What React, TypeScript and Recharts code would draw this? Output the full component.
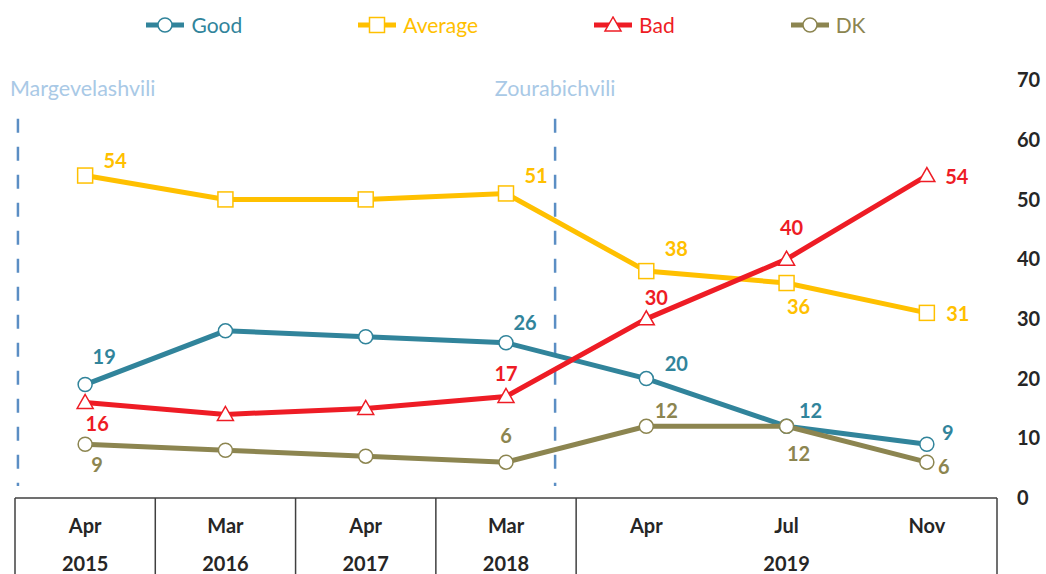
import React from "react";
import { LineChart, Line, XAxis, YAxis, ReferenceLine, LabelList } from "recharts";

const periods = ["Apr 2015", "Mar 2016", "Apr 2017", "Mar 2018", "Apr 2019", "Jul 2019", "Nov 2019"];
const months = ["Apr", "Mar", "Apr", "Mar", "Apr", "Jul", "Nov"];
const years = ["2015", "2016", "2017", "2018", "", "2019", ""];

const good = [19, 28, 27, 26, 20, 12, 9];
const average = [54, 50, 50, 51, 38, 36, 31];
const bad = [16, 14, 15, 17, 30, 40, 54];
const dk = [9, 8, 7, 6, 12, 12, 6];

const yTicks = [0, 10, 20, 30, 40, 50, 60, 70];

// presidents' terms start, placed on a hidden numeric axis spanning the plot (0..6)
const presidents = [
  { name: "Margevelashvili", at: 0.018 },
  { name: "Zourabichvili", at: 3.3 },
];

const FONT = "Lato, 'Open Sans', sans-serif";
const W = 1046;
const H = 574;

type Shape = "circle" | "square" | "triangle";

// label offsets from the point, null = no label
const series: {
  key: string;
  values: number[];
  color: string;
  shape: Shape;
  labels: ([number, number] | null)[];
}[] = [
  {
    key: "Good",
    values: good,
    color: "#31849B",
    shape: "circle",
    labels: [[19, -29], null, null, [19, -21], [30, -16], [24, -16], [21, -12]],
  },
  {
    key: "Average",
    values: average,
    color: "#FFC000",
    shape: "square",
    labels: [[30, -16], null, null, [30, -18], [30, -23], [12, 23], [31, 0]],
  },
  {
    key: "Bad",
    values: bad,
    color: "#EE1C25",
    shape: "triangle",
    labels: [[12, 21], null, null, [0, -23], [10, -22], [5, -32], [30, 0]],
  },
  {
    key: "DK",
    values: dk,
    color: "#8C8550",
    shape: "circle",
    labels: [[12, 20], null, null, [0, -27], [20, -16], [12, 27], [17, 4]],
  },
];

const data = periods.map((p, i) => {
  const row: Record<string, any> = { period: p };
  series.forEach((s) => (row[s.key] = s.values[i]));
  return row;
});

function Marker({ cx, cy, color, shape }: { cx: number; cy: number; color: string; shape: Shape }) {
  if (shape === "square") {
    return <rect x={cx - 7.5} y={cy - 7.5} width={15} height={15} fill="#fff" stroke={color} strokeWidth={1.5} />;
  }
  if (shape === "triangle") {
    return (
      <polygon
        points={`${cx},${cy - 8} ${cx - 8},${cy + 6} ${cx + 8},${cy + 6}`}
        fill="#fff"
        stroke={color}
        strokeWidth={1.5}
      />
    );
  }
  return <circle cx={cx} cy={cy} r={7} fill="#fff" stroke={color} strokeWidth={1.5} />;
}

const TableTick = (props: any) => {
  const { x, y, index } = props;
  const half = 982 / 7 / 2;
  const i = index ?? 0;
  return (
    <g>
      {i <= 4 && <line x1={x - half} y1={y} x2={x - half} y2={y + 80} stroke="#404040" strokeWidth={1.5} />}
      {i === 6 && <line x1={x + half} y1={y} x2={x + half} y2={y + 80} stroke="#404040" strokeWidth={1.5} />}
      <text x={x} y={y + 27} textAnchor="middle" dominantBaseline="central" fontSize={20} fontWeight={700} fill="#262626" fontFamily={FONT}>
        {months[i]}
      </text>
      {years[i] && (
        <text x={x} y={y + 65} textAnchor="middle" dominantBaseline="central" fontSize={20} fontWeight={700} fill="#262626" fontFamily={FONT}>
          {years[i]}
        </text>
      )}
    </g>
  );
};

function LegendBar() {
  return (
    <div
      style={{
        position: "absolute",
        left: 15,
        width: 982,
        top: 12,
        display: "flex",
        justifyContent: "center",
        gap: 116,
        fontFamily: FONT,
        fontSize: 21,
      }}
    >
      {series.map((s) => (
        <div key={s.key} style={{ display: "flex", alignItems: "center", color: s.color }}>
          <svg width={38} height={18}>
            <line x1={0} y1={9} x2={38} y2={9} stroke={s.color} strokeWidth={5} />
            <Marker cx={19} cy={9} color={s.color} shape={s.shape} />
          </svg>
          <span style={{ marginLeft: 7 }}>{s.key}</span>
        </div>
      ))}
    </div>
  );
}

export default function App() {
  return (
    <div style={{ position: "absolute", left: 0, top: 0, width: W, height: H, background: "#fff", overflow: "hidden" }}>
      <LegendBar />
      <LineChart width={W} height={H} data={data} margin={{ top: 80, right: 0, left: 15, bottom: 0 }}>
        <XAxis
          xAxisId="cat"
          dataKey="period"
          scale="band"
          height={76}
          interval={0}
          tickSize={0}
          tickMargin={0}
          axisLine={{ stroke: "#404040", strokeWidth: 1.5 }}
          tickLine={false}
          tick={<TableTick />}
        />
        <XAxis xAxisId="num" type="number" domain={[0, 6]} hide allowDataOverflow />
        <YAxis
          yAxisId="v"
          orientation="right"
          domain={[0, 70]}
          ticks={yTicks}
          width={49}
          axisLine={false}
          tickLine={false}
          tickMargin={14}
          tick={{ fill: "#262626", fontSize: 20, fontWeight: 700, fontFamily: FONT }}
        />
        {presidents.map((p, k) => (
          <ReferenceLine
            key={p.name}
            xAxisId="num"
            yAxisId="v"
            segment={[
              { x: p.at, y: 63.5 },
              { x: p.at, y: 2 },
            ]}
            stroke="#5B8EC4"
            strokeWidth={2.5}
            strokeDasharray="14 14"
            ifOverflow="visible"
            label={(lp: any) => (
              <text
                x={k === 0 ? lp.viewBox.x - 8 : lp.viewBox.x}
                y={88}
                textAnchor={k === 0 ? "start" : "middle"}
                dominantBaseline="central"
                fontSize={21.5}
                fill="#A9C9E6"
                fontFamily={FONT}
              >
                {p.name}
              </text>
            )}
          />
        ))}
        {series.map((s) => (
          <Line
            key={s.key}
            xAxisId="cat"
            yAxisId="v"
            type="linear"
            dataKey={s.key}
            stroke={s.color}
            strokeWidth={5}
            isAnimationActive={false}
            activeDot={false}
            dot={(dp: any) => (
              <Marker key={`${s.key}-${dp.index}`} cx={dp.cx} cy={dp.cy} color={s.color} shape={s.shape} />
            )}
          >
            <LabelList
              dataKey={s.key}
              content={(lp: any) => {
                const off = s.labels[lp.index];
                if (!off) return null;
                return (
                  <text
                    x={lp.x + off[0]}
                    y={lp.y + off[1]}
                    textAnchor="middle"
                    dominantBaseline="central"
                    fontSize={20}
                    fontWeight={700}
                    fill={s.color}
                    fontFamily={FONT}
                  >
                    {lp.value}
                  </text>
                );
              }}
            />
          </Line>
        ))}
      </LineChart>
    </div>
  );
}
